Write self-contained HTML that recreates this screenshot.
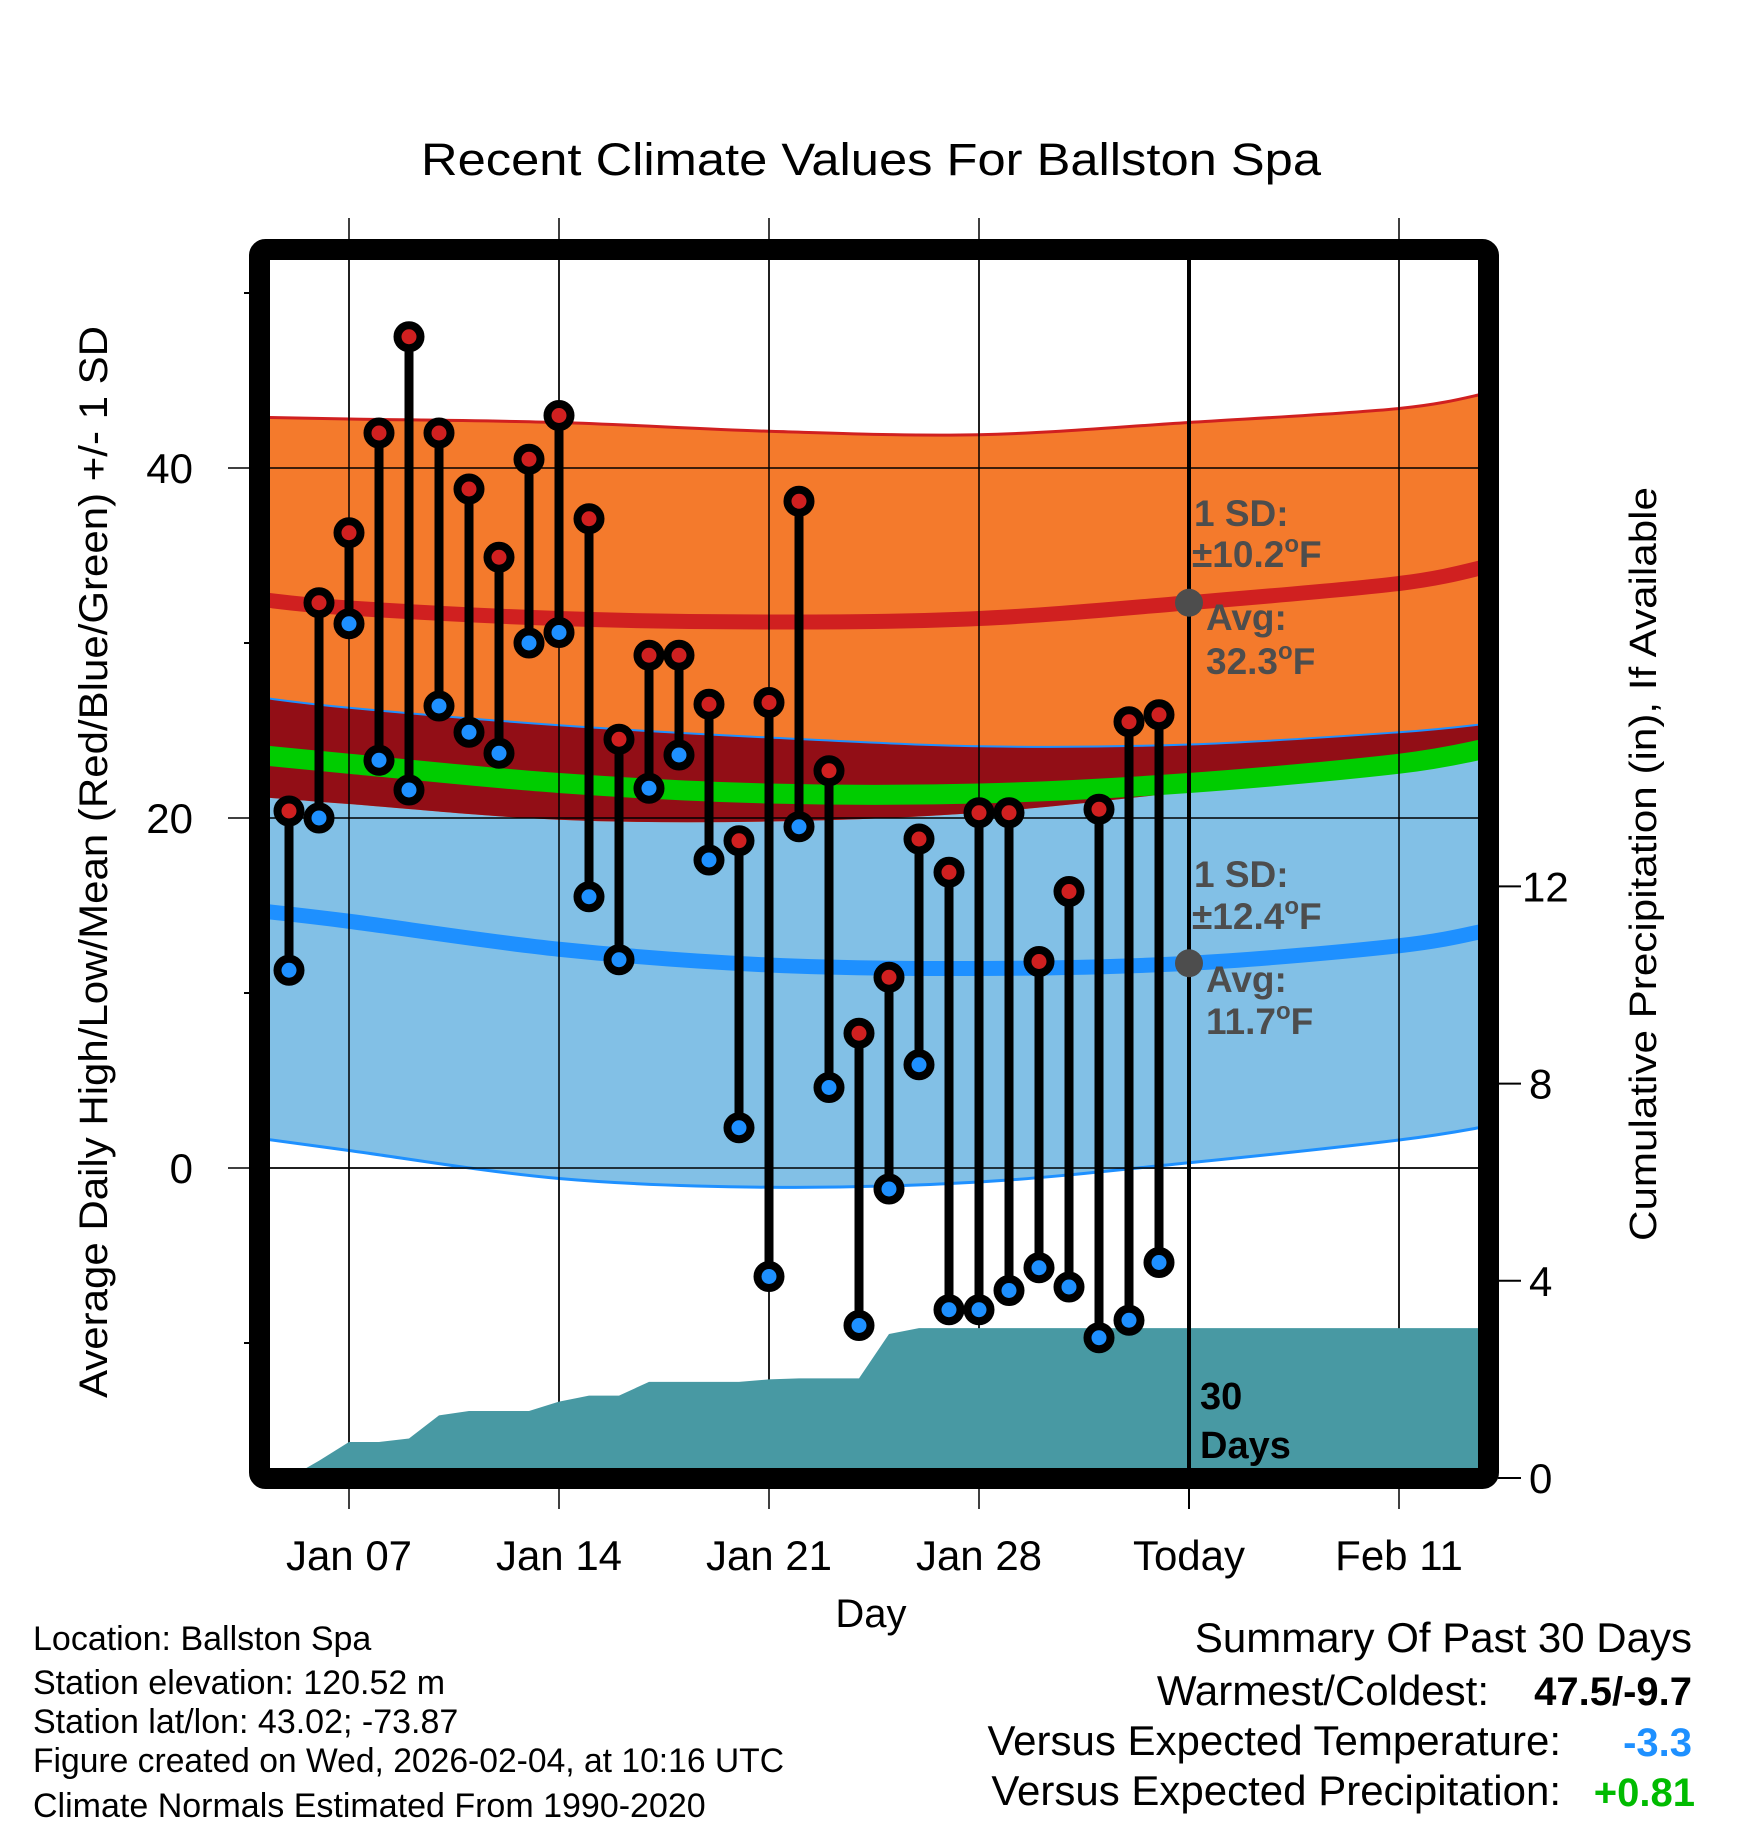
<!DOCTYPE html>
<html><head><meta charset="utf-8"><style>
html,body{margin:0;padding:0;background:#fff;}
svg{display:block;font-family:"Liberation Sans",Arial,sans-serif;}
</style></head><body>
<svg id="chart" width="1748" height="1828" viewBox="0 0 1748 1828" xmlns="http://www.w3.org/2000/svg">
<defs><clipPath id="plotclip"><rect x="270" y="260" width="1208" height="1208"/></clipPath></defs>
<text x="871" y="175" font-size="45" text-anchor="middle" textLength="900" lengthAdjust="spacingAndGlyphs">Recent Climate Values For Ballston Spa</text>
<g id="grid"></g>
<g id="plot" clip-path="url(#plotclip)"></g>
<g id="marks"></g>
<g id="axes"></g>
<g font-weight="bold" font-size="37" fill="#4d4d4d">
<text x="1194" y="526">1 SD:</text>
<text x="1192" y="567">±10.2<tspan font-size="24" dy="-15">o</tspan><tspan dy="15">F</tspan></text>
<text x="1206" y="630">Avg:</text>
<text x="1206" y="674">32.3<tspan font-size="24" dy="-15">o</tspan><tspan dy="15">F</tspan></text>
<text x="1194" y="887">1 SD:</text>
<text x="1192" y="929">±12.4<tspan font-size="24" dy="-15">o</tspan><tspan dy="15">F</tspan></text>
<text x="1206" y="992">Avg:</text>
<text x="1206" y="1034">11.7<tspan font-size="24" dy="-15">o</tspan><tspan dy="15">F</tspan></text>
<text x="1200" y="1409" fill="#000" font-size="38">30</text>
<text x="1200" y="1458" fill="#000" font-size="38">Days</text>
</g>
<text transform="translate(107,862) rotate(-90)" font-size="40" text-anchor="middle" textLength="1072" lengthAdjust="spacingAndGlyphs">Average Daily High/Low/Mean (Red/Blue/Green) +/- 1 SD</text>
<text transform="translate(1656,864) rotate(-90)" font-size="38" text-anchor="middle" textLength="754" lengthAdjust="spacingAndGlyphs">Cumulative Precipitation (in), If Available</text>
<text x="871" y="1627" font-size="40" text-anchor="middle">Day</text>
<g font-size="34">
<text x="33" y="1650">Location: Ballston Spa</text>
<text x="33" y="1694">Station elevation: 120.52 m</text>
<text x="33" y="1733">Station lat/lon: 43.02; -73.87</text>
<text x="33" y="1772" textLength="751" lengthAdjust="spacingAndGlyphs">Figure created on Wed, 2026-02-04, at 10:16 UTC</text>
<text x="33" y="1817">Climate Normals Estimated From 1990-2020</text>
</g>
<g font-size="42">
<text x="1692" y="1652" text-anchor="end">Summary Of Past 30 Days</text>
<text x="1489" y="1705" text-anchor="end">Warmest/Coldest:</text>
<text x="1692" y="1705" text-anchor="end" font-weight="bold" font-size="40">47.5/-9.7</text>
<text x="1561" y="1755" text-anchor="end">Versus Expected Temperature:</text>
<text x="1692" y="1756" text-anchor="end" font-weight="bold" font-size="40" fill="#1e90ff">-3.3</text>
<text x="1561" y="1805" text-anchor="end">Versus Expected Precipitation:</text>
<text x="1695" y="1806" text-anchor="end" font-weight="bold" font-size="40" fill="#00bb00">+0.81</text>
</g>
</svg>
<script>
// ---- data ----
const nodeDays = [4, 7, 14, 21, 28, 35, 42, 45];
const hiUpper = [42.9, 42.8, 42.6, 42.1, 41.9, 42.6, 43.4, 44.3];
const hiAvg   = [32.5, 32.0, 31.4, 31.2, 31.4, 32.3, 33.4, 34.4];
const hiLower = [21.2, 20.8, 19.9, 19.8, 20.3, 21.5, 22.7, 24.0];
const loUpper = [26.9, 26.3, 25.3, 24.6, 24.1, 24.2, 24.9, 25.4];
const loAvg   = [14.7, 14.1, 12.5, 11.6, 11.4, 11.7, 12.7, 13.6];
const loLower = [1.7, 1.0, -0.6, -1.1, -0.8, 0.3, 1.6, 2.4];
const meanT   = [23.6, 23.1, 22.0, 21.4, 21.4, 22.0, 23.1, 24.0];
const obsDays = [5,6,7,8,9,10,11,12,13,14,15,16,17,18,19,20,21,22,23,24,25,26,27,28,29,30,31,32,33,34];
const highs = [20.4,32.3,36.3,42.0,47.5,42.0,38.8,34.9,40.5,43.0,37.1,24.5,29.3,29.3,26.5,18.7,26.6,38.1,22.7,7.7,10.9,18.8,16.9,20.3,20.3,11.8,15.8,20.5,25.5,25.9];
const lows  = [11.3,20.0,31.1,23.3,21.6,26.4,24.9,23.7,30.0,30.6,15.5,11.9,21.7,23.6,17.6,2.3,-6.2,19.5,4.6,-9.0,-1.2,5.9,-8.1,-8.1,-7.0,-5.7,-6.8,-9.7,-8.7,-5.4];
const precipDays = [4,5,6,7,8,9,10,11,12,13,14,15,16,17,18,19,20,21,22,23,24,25,26,34,45];
const precipCum  = [0,0,0.35,0.73,0.73,0.80,1.27,1.36,1.36,1.36,1.55,1.67,1.67,1.95,1.95,1.95,1.95,2.0,2.02,2.02,2.02,2.92,3.04,3.04,3.04];
const tempTicks = [40, 20, 0];
const tempMinor = [50, 30, 10, -10];
const precipTicks = [0, 4, 8, 12];
const dateTickDays = [7, 14, 21, 28, 35, 42];
const dateTickLabels = ["Jan 07", "Jan 14", "Jan 21", "Jan 28", "Today", "Feb 11"];
const todayDay = 35;
const todayHi = 32.3, todayLo = 11.7;

// ---- scales ----
const X = d => 349 + (d - 7) * 30;
const Y = t => 1168 - t * 17.5;
const YP = p => 1478 - p * 49.3;
const NS = "http://www.w3.org/2000/svg";
function mk(tag, parent, attrs) { const e = document.createElementNS(NS, tag); for (const k in attrs) e.setAttribute(k, attrs[k]); parent.appendChild(e); return e; }

function curve(ds, vs, start) {
  const p = ds.map((d, i) => [X(d), Y(vs[i])]);
  let s = (start ? "M" : "L") + p[0][0] + "," + p[0][1];
  for (let i = 0; i < p.length - 1; i++) {
    const p0 = p[Math.max(0, i - 1)], p1 = p[i], p2 = p[i + 1], p3 = p[Math.min(p.length - 1, i + 2)];
    const c1 = [p1[0] + (p2[0] - p0[0]) / 6, p1[1] + (p2[1] - p0[1]) / 6];
    const c2 = [p2[0] - (p3[0] - p1[0]) / 6, p2[1] - (p3[1] - p1[1]) / 6];
    s += "C" + c1[0] + "," + c1[1] + " " + c2[0] + "," + c2[1] + " " + p2[0] + "," + p2[1];
  }
  return s;
}
function band(up, lo) {
  const rd = nodeDays.slice().reverse();
  return curve(nodeDays, up, true) + curve(rd, lo.slice().reverse(), false) + "Z";
}

const grid = document.getElementById("grid");
const plot = document.getElementById("plot");
const marks = document.getElementById("marks");
const axes = document.getElementById("axes");

dateTickDays.forEach((d, i) => {
  if (d === todayDay) { const t = mk("line", grid, {x1: X(d), x2: X(d), y1: 1478, y2: 1509, stroke: "#000", "stroke-width": 2});
    
     return; }
  const l = mk("line", grid, {x1: X(d), x2: X(d), y1: 218, y2: 1509, stroke: "#000", "stroke-width": 1.5});
  
  
});

const blue = mk("path", plot, {d: band(loUpper, loLower), fill: "#82c0e6"});


const orange = mk("path", plot, {d: band(hiUpper, hiLower), fill: "#f47a2c"});


const dred = mk("path", plot, {d: band(loUpper, hiLower), fill: "#920e16"});


const lu = mk("path", plot, {d: curve(nodeDays, loUpper, true), fill: "none", stroke: "#1e90ff", "stroke-width": 2});


const ll = mk("path", plot, {d: curve(nodeDays, loLower, true), fill: "none", stroke: "#1e90ff", "stroke-width": 3});


const hu = mk("path", plot, {d: curve(nodeDays, hiUpper, true), fill: "none", stroke: "#d02020", "stroke-width": 3});


const gm = mk("path", plot, {d: curve(nodeDays, meanT, true), fill: "none", stroke: "#00cc00", "stroke-width": 20});


const ha = mk("path", plot, {d: curve(nodeDays, hiAvg, true), fill: "none", stroke: "#d02020", "stroke-width": 15});


const la = mk("path", plot, {d: curve(nodeDays, loAvg, true), fill: "none", stroke: "#1e90ff", "stroke-width": 15});



tempTicks.forEach(t => {
  const l = mk("line", grid, {x1: 228, x2: 1478, y1: Y(t), y2: Y(t), stroke: "#000", "stroke-width": 1.5});
  
  
});
tempTicks.forEach(t => {
  const l = mk("line", plot, {x1: 270, x2: 1478, y1: Y(t), y2: Y(t), stroke: "#000", "stroke-width": 1.5});
  
  
});
dateTickDays.forEach(d => {
  if (d === todayDay) return;
  const l = mk("line", plot, {x1: X(d), x2: X(d), y1: 260, y2: 1478, stroke: "#000", "stroke-width": 1.5});
  
  
});

let pd = "M" + X(precipDays[0]) + "," + YP(0);
precipDays.forEach((d, i) => { pd += "L" + X(d) + "," + YP(precipCum[i]); });
pd += "L" + X(precipDays[precipDays.length - 1]) + "," + YP(0) + "Z";
const pa = mk("path", plot, {d: pd, fill: "#4899a3"});



const tl = mk("line", plot, {x1: X(todayDay), x2: X(todayDay), y1: 260, y2: 1478, stroke: "#000", "stroke-width": 4});



obsDays.forEach((d, i) => {
  const s = mk("line", marks, {x1: X(d), x2: X(d), y1: Y(highs[i]), y2: Y(lows[i]), stroke: "#000", "stroke-width": 9});
  
  
});
obsDays.forEach((d, i) => {
  const lo = mk("circle", marks, {cx: X(d), cy: Y(lows[i]), r: 11.5, fill: "#1e90ff", stroke: "#000", "stroke-width": 8});
  
  
  const hi = mk("circle", marks, {cx: X(d), cy: Y(highs[i]), r: 11.5, fill: "#d02020", stroke: "#000", "stroke-width": 8});
  
  
});
const th = mk("circle", marks, {cx: X(todayDay), cy: Y(todayHi), r: 14, fill: "#4d4d4d"});


const tlo = mk("circle", marks, {cx: X(todayDay), cy: Y(todayLo), r: 14, fill: "#4d4d4d"});



const fr = mk("rect", axes, {x: 259.5, y: 249.5, width: 1229, height: 1229, rx: 6, fill: "none", stroke: "#000", "stroke-width": 21});



tempTicks.forEach(t => {
  const tx = mk("text", axes, {x: 193, y: Y(t) + 15, "font-size": 42, "text-anchor": "end"});
  tx.textContent = String(t);
  
  
});
tempMinor.forEach(t => {
  const l = mk("line", axes, {x1: 244, x2: 252, y1: Y(t), y2: Y(t), stroke: "#000", "stroke-width": 2});
  
  
});
precipTicks.forEach(p => {
  const l = mk("line", axes, {x1: 1498, x2: 1521, y1: YP(p), y2: YP(p), stroke: "#000", "stroke-width": 2});
  
  
  const tx = mk("text", axes, {x: p >= 10 ? 1522 : 1529, y: YP(p) + 15, "font-size": 42});
  tx.textContent = String(p);
  
  
});
dateTickDays.forEach((d, i) => {
  const tx = mk("text", axes, {x: X(d), y: 1570, "font-size": 42, "text-anchor": "middle"});
  tx.textContent = dateTickLabels[i];
  
  
});
</script>
</body></html>
